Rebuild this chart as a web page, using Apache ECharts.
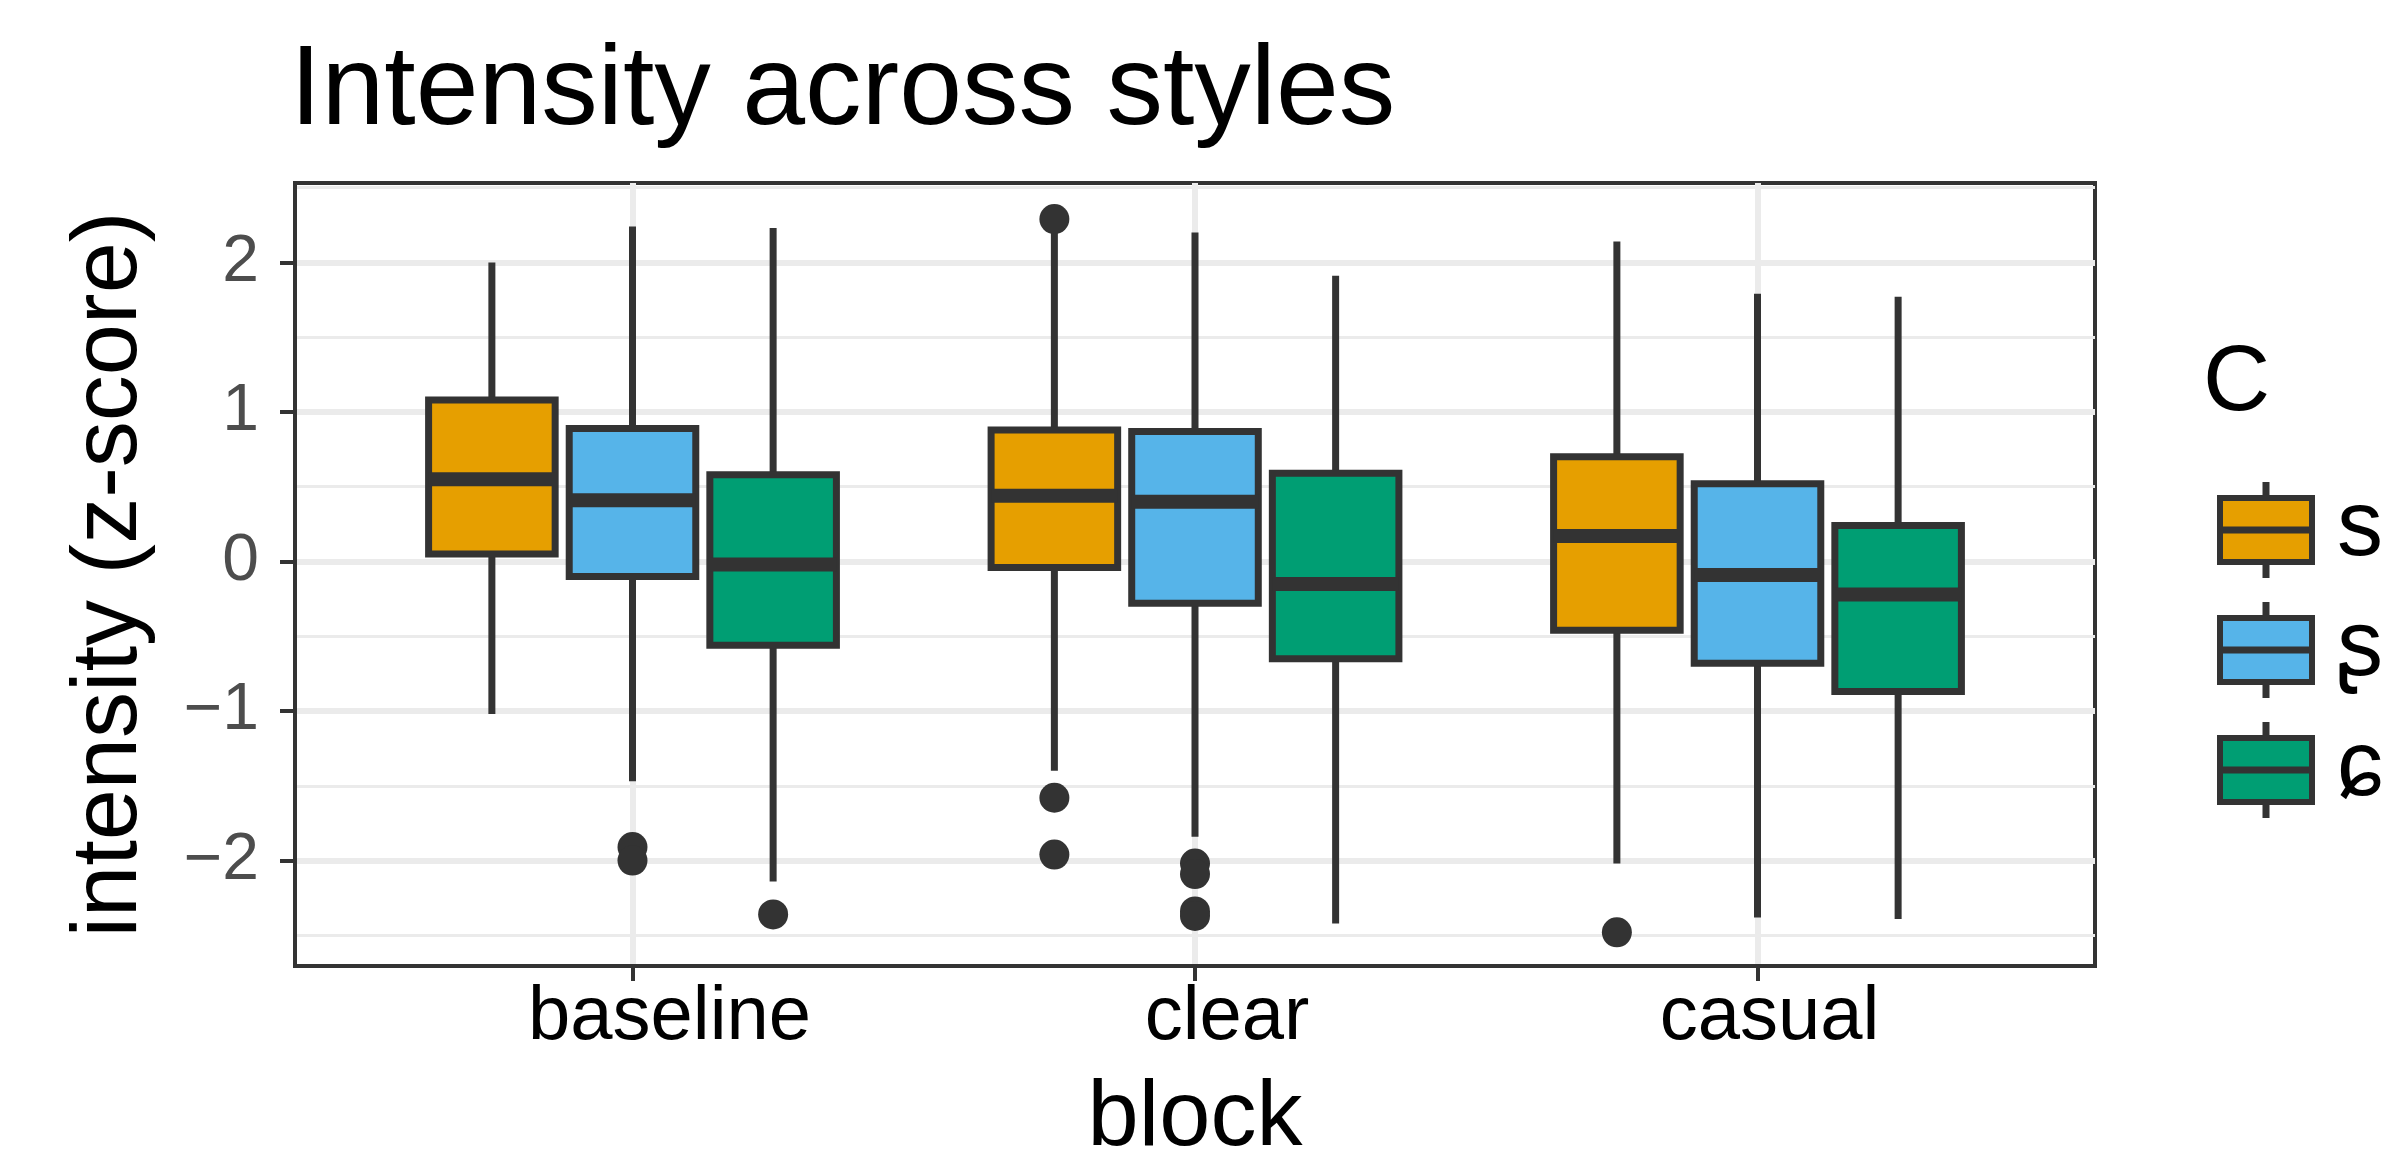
<!DOCTYPE html>
<html>
<head>
<meta charset="utf-8">
<title>Intensity across styles</title>
<script src="https://cdn.jsdelivr.net/npm/echarts@6/dist/echarts.min.js"></script>
<style>
  html, body { margin: 0; padding: 0; background: #fff; }
  #chart { width: 2394px; height: 1157px; }
</style>
</head>
<body>
<div id="chart"></div>
<script>
// categories on the x axis and the three consonant groups
const blocks = ['baseline', 'clear', 'casual']
const groups = ['s', 'ʂ', 'ɕ']

// five-number summaries per block: [min, Q1, median, Q3, max]
const statsS = [
  [-1.02, 0.05, 0.55, 1.08, 2.00],
  [-1.40, -0.04, 0.44, 0.88, 2.22],
  [-2.02, -0.46, 0.17, 0.70, 2.14]
]
const statsSh = [
  [-1.47, -0.10, 0.41, 0.89, 2.24],
  [-1.84, -0.28, 0.40, 0.87, 2.20],
  [-2.38, -0.68, -0.09, 0.52, 1.79]
]
const statsC = [
  [-2.14, -0.56, -0.02, 0.58, 2.23],
  [-2.42, -0.65, -0.15, 0.59, 1.91],
  [-2.39, -0.87, -0.22, 0.24, 1.77]
]

// outliers per block
const outS = [[], [2.29, -1.58, -1.96], [-2.48]]
const outSh = [[-1.91, -2.00], [-2.02, -2.09, -2.34, -2.37], []]
const outC = [[-2.36], [], []]

// y axis ticks
const yTicks = [-2, -1, 0, 1, 2]
const yMinor = [-2.5, -1.5, -0.5, 0.5, 1.5, 2.5]

const colors = ['#E69F00', '#56B4E9', '#009E73']
const DARK = '#333333'
const FONT = '"Liberation Sans", "DejaVu Sans", Arial, sans-serif'
const BOX_W = 0.225     // box width in x units
const DODGE = [-0.25, 0, 0.25]
const LINE_W = 7
// the tick labels sit a little right of their ticks in the original
const LABEL_PAD = [74, 64, 24]

const KEY_ICON = 'path://M0,13H92V77H0Z M0,44.5H92V45.5H0Z M45.5,0H46.5V13H45.5Z M45.5,77H46.5V90H45.5Z'

const chart = echarts.init(document.getElementById('chart'))

function boxRenderer(offset, color) {
  return function (params, api) {
    const x = api.value(0) + offset
    const pMin = api.coord([x, api.value(1)])
    const pQ1 = api.coord([x, api.value(2)])
    const pMed = api.coord([x, api.value(3)])
    const pQ3 = api.coord([x, api.value(4)])
    const pMax = api.coord([x, api.value(5)])
    const halfW = api.size([BOX_W, 0])[0] / 2
    const stroke = { stroke: DARK, lineWidth: LINE_W }
    return {
      type: 'group',
      children: [
        { type: 'line', shape: { x1: pMax[0], y1: pMax[1], x2: pQ3[0], y2: pQ3[1] }, style: stroke },
        { type: 'line', shape: { x1: pQ1[0], y1: pQ1[1], x2: pMin[0], y2: pMin[1] }, style: stroke },
        {
          type: 'rect',
          shape: { x: pQ3[0] - halfW, y: pQ3[1], width: halfW * 2, height: pQ1[1] - pQ3[1] },
          style: { fill: color, stroke: DARK, lineWidth: LINE_W }
        },
        {
          type: 'line',
          shape: { x1: pMed[0] - halfW, y1: pMed[1], x2: pMed[0] + halfW, y2: pMed[1] },
          style: { stroke: DARK, lineWidth: LINE_W * 2 }
        }
      ]
    }
  }
}

const allStats = [statsS, statsSh, statsC]
const allOut = [outS, outSh, outC]

const series = []
groups.forEach((g, gi) => {
  series.push({
    name: g,
    type: 'custom',
    renderItem: boxRenderer(DODGE[gi], colors[gi]),
    itemStyle: { color: colors[gi] },
    encode: { x: 0, y: [1, 2, 3, 4, 5] },
    data: allStats[gi].map((s, i) => [i + 1].concat(s)),
    z: 3
  })
})
groups.forEach((g, gi) => {
  const pts = []
  allOut[gi].forEach((vals, i) => {
    vals.forEach(v => pts.push([i + 1 + DODGE[gi], v]))
  })
  series.push({
    name: g + ' outliers',
    type: 'scatter',
    symbol: 'circle',
    symbolSize: 30,
    itemStyle: { color: DARK, opacity: 1 },
    data: pts,
    z: 4
  })
})

const labelRich = {}
blocks.forEach((b, i) => {
  labelRich['l' + i] = {
    fontFamily: FONT,
    fontSize: 76,
    color: '#000',
    padding: [0, 0, 0, LABEL_PAD[i]]
  }
})

const option = {
  animation: false,
  backgroundColor: '#ffffff',
  title: [
    {
      text: 'Intensity across styles',
      left: 290,
      top: 36,
      padding: 0,
      textStyle: { fontFamily: FONT, fontSize: 113, fontWeight: 'normal', color: '#000' }
    },
    {
      text: 'C',
      left: 2203,
      top: 338,
      padding: 0,
      textStyle: { fontFamily: FONT, fontSize: 93, fontWeight: 'normal', color: '#000' }
    }
  ],
  legend: {
    orient: 'vertical',
    left: 2217,
    top: 482,
    padding: 0,
    itemWidth: 92,
    itemHeight: 90,
    itemGap: 24,
    selectedMode: false,
    textStyle: { fontFamily: FONT, fontSize: 92, color: '#000', padding: [0, 0, 0, 20] },
    data: groups.map((g, gi) => ({
      name: g,
      icon: KEY_ICON,
      itemStyle: { color: colors[gi], borderColor: DARK, borderWidth: 6 }
    }))
  },
  grid: {
    left: 295,
    right: 299,
    top: 183,
    bottom: 191,
    outerBoundsMode: 'none',
    containLabel: false,
    show: true,
    borderColor: DARK,
    borderWidth: 4,
    backgroundColor: 'transparent'
  },
  xAxis: {
    type: 'value',
    min: 0.4,
    max: 3.6,
    name: 'block',
    nameLocation: 'middle',
    nameGap: 108,
    nameTextStyle: { fontFamily: FONT, fontSize: 92, color: '#000' },
    axisLine: { show: true, onZero: false, lineStyle: { color: DARK, width: 4 } },
    axisTick: { show: true, length: 15, customValues: [1, 2, 3], lineStyle: { color: DARK, width: 4 } },
    axisLabel: {
      customValues: [1, 2, 3],
      margin: 14,
      fontFamily: FONT,
      fontSize: 76,
      color: '#000',
      formatter: v => {
        const i = Math.round(v) - 1
        return '{l' + i + '|' + blocks[i] + '}'
      },
      rich: labelRich
    },
    splitLine: { show: true, lineStyle: { color: '#EBEBEB', width: 6 } }
  },
  yAxis: [
    {
      type: 'value',
      min: -2.705,
      max: 2.531,
      name: 'intensity (z-score)',
      nameLocation: 'middle',
      nameGap: 138,
      nameTextStyle: { fontFamily: FONT, fontSize: 92, color: '#000' },
      axisLine: { show: true, onZero: false, lineStyle: { color: DARK, width: 4 } },
      axisTick: { show: true, length: 15, customValues: yTicks, lineStyle: { color: DARK, width: 4 } },
      axisLabel: {
        customValues: yTicks,
        margin: 36,
        fontFamily: FONT,
        fontSize: 66,
        color: '#4D4D4D',
        formatter: v => (v < 0 ? '\u2212' + Math.abs(v) : String(v))
      },
      splitLine: { show: true, lineStyle: { color: '#EBEBEB', width: 6 } }
    },
    {
      type: 'value',
      min: -2.705,
      max: 2.531,
      position: 'right',
      axisLine: { show: false },
      axisTick: { show: false, customValues: yMinor },
      axisLabel: { show: false, customValues: yMinor },
      splitLine: { show: true, lineStyle: { color: '#EBEBEB', width: 3 } }
    }
  ],
  series: series
}

chart.setOption(option)
</script>
</body>
</html>
